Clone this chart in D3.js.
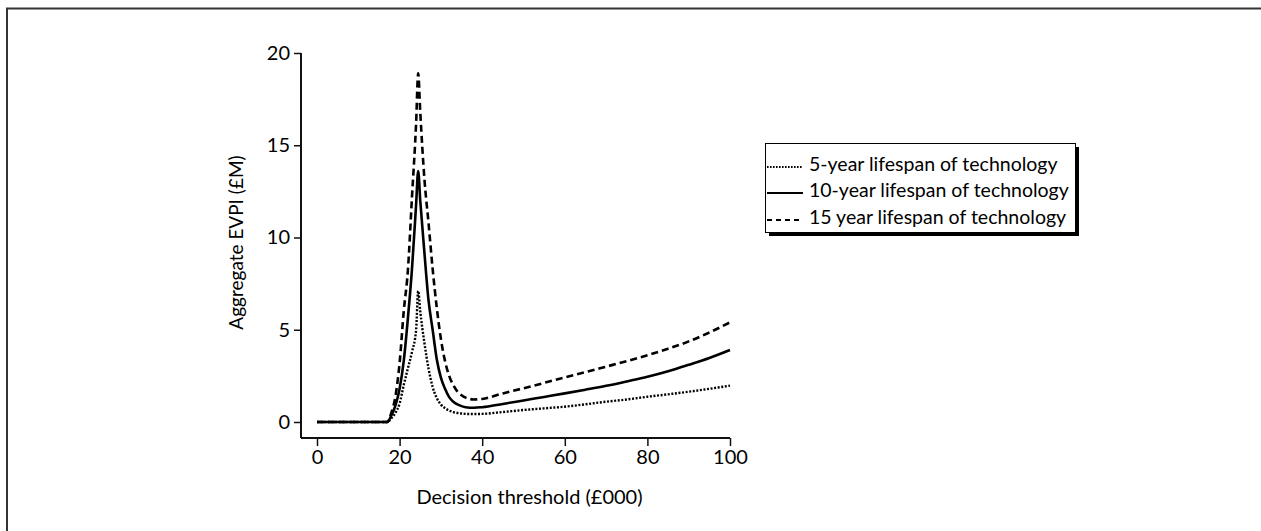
<!DOCTYPE html>
<html>
<head>
<meta charset="utf-8">
<script src="https://cdn.jsdelivr.net/npm/d3@7"></script>
<style>
  html, body { margin: 0; padding: 0; background: #fff; }
  svg { display: block; font-family: Lato, "Open Sans", sans-serif; }
</style>
</head>
<body>
<svg id="chart"></svg>
<script>
// Giá trị ngưỡng quyết định (£000)
const thresholds = [0, 5, 10, 15, 17, 18, 19, 20, 21, 22, 23, 24, 24.5, 25, 26, 27, 28, 29, 30,
  31, 32, 33, 34, 35, 36, 38, 40, 45, 50, 55, 60, 65, 70, 75, 80, 85, 90, 95, 100];

// EVPI tổng hợp (£M) theo từng tuổi thọ công nghệ
const evpi5 = [0, 0, 0, 0, 0, 0.2, 0.5, 1.0, 2.0, 2.9, 3.8, 5.0, 7.1, 6.0, 4.3, 2.9, 1.9, 1.3, 0.95,
  0.75, 0.62, 0.54, 0.49, 0.46, 0.44, 0.43, 0.44, 0.54, 0.65, 0.74, 0.83, 0.96, 1.1, 1.22, 1.37, 1.5, 1.64, 1.8, 1.97];
const evpi10 = [0, 0, 0, 0, 0, 0.35, 0.9, 1.8, 3.3, 5.6, 8.3, 11.8, 13.6, 12.0, 9.2, 6.6, 5.0, 3.4, 2.4,
  1.8, 1.35, 1.1, 0.95, 0.86, 0.8, 0.77, 0.8, 0.98, 1.17, 1.36, 1.55, 1.75, 1.96, 2.2, 2.45, 2.75, 3.1, 3.47, 3.9];
const evpi15 = [0, 0, 0, 0, 0, 0.5, 1.4, 3.2, 6.0, 8.2, 12.2, 16.2, 18.9, 16.8, 13.2, 10.8, 8.3, 6.2, 4.5,
  3.3, 2.5, 2.0, 1.65, 1.45, 1.32, 1.22, 1.25, 1.55, 1.83, 2.12, 2.42, 2.7, 3.0, 3.3, 3.62, 3.97, 4.37, 4.85, 5.4];

const seriesNames = ["5-year lifespan of technology", "10-year lifespan of technology", "15 year lifespan of technology"];
const xTicks = [0, 20, 40, 60, 80, 100];
const yTicks = [0, 5, 10, 15, 20];

// Kiểu nét cho từng đường
const styles = [
  { dash: "2,1.6", width: 2.4 },
  { dash: null, width: 2.6 },
  { dash: "7,4", width: 2.6 }
];

const W = 1261, H = 531;
const svg = d3.select("#chart").attr("width", W).attr("height", H);

// Khung ngoài (chỉ thấy cạnh trên và trái)
svg.append("rect")
  .attr("x", 7).attr("y", 8.5)
  .attr("width", 1400).attr("height", 700)
  .attr("fill", "none").attr("stroke", "#333").attr("stroke-width", 2);

const xScale = d3.scaleLinear().domain([0, 100]).range([317, 730]);
const yScale = d3.scaleLinear().domain([0, 20]).range([422, 53]);
const axisX0 = 301, axisY0 = 438;

// Trục Y
const gy = svg.append("g")
  .attr("transform", `translate(${axisX0},0)`)
  .call(d3.axisLeft(yScale).tickValues(yTicks).tickSize(7).tickPadding(4).tickSizeOuter(0));
gy.select(".domain").remove();
gy.append("line")
  .attr("x1", 0).attr("x2", 0)
  .attr("y1", yScale(20)).attr("y2", axisY0)
  .attr("stroke", "#111").attr("stroke-width", 2);

// Trục X
const gx = svg.append("g")
  .attr("transform", `translate(0,${axisY0})`)
  .call(d3.axisBottom(xScale).tickValues(xTicks).tickSize(8).tickPadding(4).tickSizeOuter(0));
gx.select(".domain").remove();
gx.append("line")
  .attr("x1", axisX0).attr("x2", xScale(100))
  .attr("y1", 0).attr("y2", 0)
  .attr("stroke", "#111").attr("stroke-width", 2);

svg.selectAll(".tick line").attr("stroke", "#111").attr("stroke-width", 1.5);
svg.selectAll(".tick text")
  .attr("fill", "#000")
  .style("font-size", "20px")
  .style("font-family", "Lato, 'Open Sans', sans-serif");

// Nhãn trục
svg.append("text")
  .attr("x", xScale(50) + 6).attr("y", 504)
  .attr("text-anchor", "middle")
  .style("font-size", "20px").attr("fill", "#000")
  .text("Decision threshold (£000)");

svg.append("text")
  .attr("transform", `translate(243,${(yScale(20) + yScale(0)) / 2 + 5}) rotate(-90)`)
  .attr("text-anchor", "middle")
  .style("font-size", "19px").attr("fill", "#000")
  .text("Aggregate EVPI (£M)");

// Vẽ các đường
const line = d3.line()
  .x((d, i) => xScale(thresholds[i]))
  .y(d => yScale(d))
  .curve(d3.curveMonotoneX);

[evpi5, evpi10, evpi15].forEach((vals, k) => {
  svg.append("path")
    .datum(vals)
    .attr("fill", "none")
    .attr("stroke", "#000")
    .attr("stroke-width", styles[k].width)
    .attr("stroke-dasharray", styles[k].dash)
    .attr("stroke-linejoin", "round")
    .attr("d", line);
});

// Chú thích
const lg = svg.append("g");
lg.append("rect")
  .attr("x", 769).attr("y", 147).attr("width", 310).attr("height", 89)
  .attr("fill", "#000");
lg.append("rect")
  .attr("x", 765.5).attr("y", 143.5).attr("width", 310).attr("height", 89)
  .attr("fill", "#fff").attr("stroke", "#000").attr("stroke-width", 1);

const rowY = [167, 193, 220];
const legendDash = ["1.6,1.4", null, "5,4"];
seriesNames.forEach((name, k) => {
  lg.append("line")
    .attr("x1", 767).attr("x2", 803)
    .attr("y1", rowY[k]).attr("y2", rowY[k])
    .attr("stroke", "#000")
    .attr("stroke-width", styles[k].width - 0.4)
    .attr("stroke-dasharray", legendDash[k]);
  lg.append("text")
    .attr("x", 809).attr("y", rowY[k] + 4)
    .style("font-size", "19.5px").attr("fill", "#000")
    .text(name);
});
</script>
</body>
</html>
